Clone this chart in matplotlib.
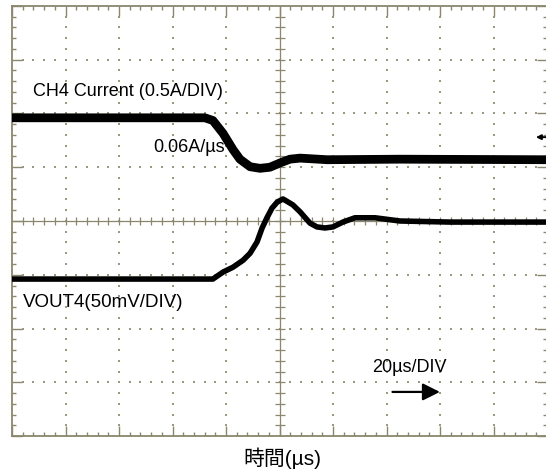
import numpy as np
import matplotlib.pyplot as plt

plt.rcParams['font.family'] = ['Liberation Sans', 'Noto Sans CJK JP', 'DejaVu Sans']

# -----------------------------
# Scope traces (time in us, level in divisions from bottom of screen)
# -----------------------------
cur_t = [0.0, 72.1, 75.1, 78.9, 82.6, 85.2, 89.0, 92.7, 96.4, 100.2,
         103.9, 107.7, 117.8, 145.0, 200.0]
cur_div = [5.92, 5.92, 5.87, 5.63, 5.33, 5.15, 5.01, 4.98, 5.00, 5.08,
           5.15, 5.17, 5.14, 5.15, 5.14]

vout_t = [0.0, 75.1, 78.9, 82.6, 86.4, 89.0, 91.6, 93.5, 95.3, 97.2,
          99.1, 101.3, 105.0, 107.7, 111.4, 114.0, 117.0, 120.0, 123.7,
          128.2, 135.7, 145.0, 163.7, 200.0]
vout_div = [2.92, 2.92, 3.05, 3.14, 3.27, 3.40, 3.61, 3.87, 4.06, 4.24,
            4.35, 4.41, 4.30, 4.17, 3.96, 3.89, 3.87, 3.89, 3.98, 4.06,
            4.06, 4.00, 3.98, 3.98]

us_per_div = 20
n_xdiv, n_ydiv = 10, 8

grid_col = '#8a876e'
dot_col = '#9c9982'

# -----------------------------
# Figure / screen frame
# -----------------------------
fig = plt.figure(figsize=(5.46, 4.73), dpi=100)
ax = fig.add_axes([12 / 546, 37 / 473, 535 / 546, 430 / 473])
ax.set_xlim(0, n_xdiv)
ax.set_ylim(0, n_ydiv)

for sp in ax.spines.values():
    sp.set_color(grid_col)
    sp.set_linewidth(1.3)

ax.set_xticks(np.arange(0, n_xdiv + 1, 1))
ax.set_yticks(np.arange(0, n_ydiv + 1, 1))
ax.set_xticks(np.arange(0, n_xdiv + 0.01, 0.2), minor=True)
ax.set_yticks(np.arange(0, n_ydiv + 0.01, 0.2), minor=True)
ax.tick_params(which='both', direction='in', top=True, right=True,
               labelbottom=False, labelleft=False, color=grid_col, width=1.0)
ax.tick_params(which='major', length=7.5)
ax.tick_params(which='minor', length=3)

# dotted graticule
for gx in range(1, n_xdiv):
    if gx == n_xdiv // 2:
        continue
    ys = np.arange(0.2, n_ydiv, 0.2)
    ax.scatter(np.full_like(ys, gx), ys, s=1.5, marker='s', color=dot_col, lw=0)
for gy in range(1, n_ydiv):
    if gy == n_ydiv // 2:
        continue
    xs = np.arange(0.2, n_xdiv, 0.2)
    ax.scatter(xs, np.full_like(xs, gy), s=1.5, marker='s', color=dot_col, lw=0)

# centre cross with sub-division marks
cx, cy = n_xdiv / 2, n_ydiv / 2
ax.axhline(cy, color=grid_col, lw=0.9)
ax.axvline(cx, color=grid_col, lw=0.9)
xs = np.arange(0.2, n_xdiv, 0.2)
ys = np.arange(0.2, n_ydiv, 0.2)
ax.plot(xs, np.full_like(xs, cy), ls='none', marker='|', ms=6, mew=0.9, color=grid_col)
ax.plot(np.full_like(ys, cx), ys, ls='none', marker='_', ms=6.5, mew=0.9, color=grid_col)

# -----------------------------
# Traces
# -----------------------------
cur_x = np.array(cur_t) / us_per_div
vout_x = np.array(vout_t) / us_per_div
ax.plot(cur_x, cur_div, color='black', lw=6.3, solid_joinstyle='round', zorder=5)
ax.plot(vout_x, vout_div, color='black', lw=4.0, solid_joinstyle='round', zorder=5)

# channel marker on right edge
ax.annotate('', xy=(9.74, 5.56), xytext=(10.05, 5.56), annotation_clip=False,
            arrowprops=dict(arrowstyle='-|>', lw=1.4, color='black', mutation_scale=7))

# -----------------------------
# Labels
# -----------------------------
ax.text(0.39, 6.40, 'CH4 Current (0.5A/DIV)', fontsize=13, va='center', ha='left')
ax.text(3.98, 5.36, '0.06A/µs', fontsize=13, va='center', ha='right')
ax.text(0.21, 2.49, 'VOUT4(50mV/DIV)', fontsize=13.5, va='center', ha='left')
ax.text(6.73, 1.27, '20µs/DIV', fontsize=13, va='center', ha='left')
ax.annotate('', xy=(8.05, 0.82), xytext=(7.06, 0.82),
            arrowprops=dict(arrowstyle='-|>', lw=1.6, color='black', mutation_scale=26))

fig.text(282 / 546, 1 - 458 / 473, '時間(µs)', fontsize=15, ha='center', va='center')

fig.savefig('out.png', dpi=100)
